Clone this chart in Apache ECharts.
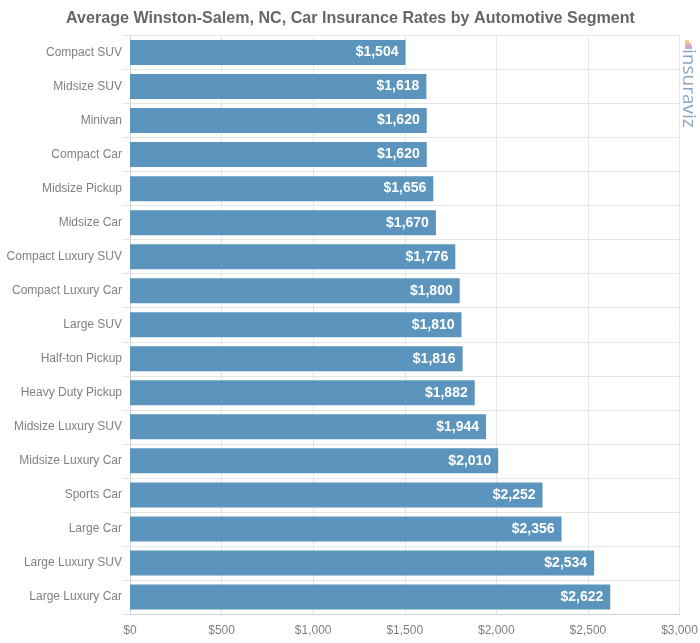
<!DOCTYPE html>
<html>
<head>
<meta charset="utf-8">
<style>html,body{margin:0;padding:0;background:#fff}#chart{width:700px;height:643px}</style>
<script src="https://cdn.jsdelivr.net/npm/echarts@6/dist/echarts.min.js"></script>
</head>
<body>
<div id="chart"></div>
<script>
var chartTitle = 'Average Winston-Salem, NC, Car Insurance Rates by Automotive Segment';
var segments = ['Compact SUV', 'Midsize SUV', 'Minivan', 'Compact Car', 'Midsize Pickup', 'Midsize Car',
  'Compact Luxury SUV', 'Compact Luxury Car', 'Large SUV', 'Half-ton Pickup', 'Heavy Duty Pickup',
  'Midsize Luxury SUV', 'Midsize Luxury Car', 'Sports Car', 'Large Car', 'Large Luxury SUV', 'Large Luxury Car'];
var rates = [1504, 1618, 1620, 1620, 1656, 1670, 1776, 1800, 1810, 1816, 1882, 1944, 2010, 2252, 2356, 2534, 2622];

function money(v) {
  return '$' + String(v).replace(/\B(?=(\d{3})+$)/g, ',');
}

var myChart = echarts.init(document.getElementById('chart'), null, { renderer: 'canvas' });
myChart.setOption({
  animation: false,
  textStyle: { fontFamily: '"Liberation Sans", Arial, sans-serif' },
  title: {
    text: chartTitle, left: 345.5, top: 6, textAlign: 'center',
    textStyle: { fontSize: 16.1, fontWeight: 'bold', color: '#666666' }
  },
  grid: { left: 130, right: 20.5, top: 35.5, bottom: 29, outerBoundsMode: 'none' },
  xAxis: {
    type: 'value', min: 0, max: 3000, interval: 500,
    axisLine: { show: true, lineStyle: { color: '#d4d4d4' } },
    axisTick: { show: false },
    axisLabel: { formatter: money, color: '#808080', fontSize: 12, margin: 11, hideOverlap: false },
    splitLine: { lineStyle: { color: '#e6e6e6' } }
  },
  yAxis: {
    type: 'category', data: segments, inverse: true,
    axisLine: { show: true, lineStyle: { color: '#d4d4d4' } },
    axisTick: { show: true, length: 8, lineStyle: { color: '#e6e6e6' } },
    axisLabel: { color: '#808080', fontSize: 12, margin: 8, interval: 0 },
    splitLine: { show: true, lineStyle: { color: '#e6e6e6' } }
  },
  series: [{
    type: 'bar', data: rates, barWidth: 25,
    itemStyle: { color: '#5b94bc' },
    label: {
      show: true, position: 'insideRight', distance: 7,
      formatter: function (p) { return money(p.value); },
      color: '#ffffff', fontSize: 14, fontWeight: 'bold'
    }
  }],
  graphic: [
    { type: 'text', rotation: -Math.PI / 2, x: 698, y: 49,
      style: { text: 'insuraviz', fontSize: 19, fontFamily: '"Open Sans", sans-serif', fill: '#8aa6c4' } },
    { type: 'rect', shape: { x: 685, y: 40, width: 4, height: 3 }, style: { fill: '#f5c98a' } },
    { type: 'rect', shape: { x: 685, y: 43, width: 6, height: 2 }, style: { fill: '#f0b0a0' } },
    { type: 'rect', shape: { x: 685, y: 45, width: 7, height: 2 }, style: { fill: '#d9a8cf' } },
    { type: 'rect', shape: { x: 685, y: 47, width: 7, height: 2 }, style: { fill: '#c0a8d8' } }
  ]
});
</script>
</body>
</html>
